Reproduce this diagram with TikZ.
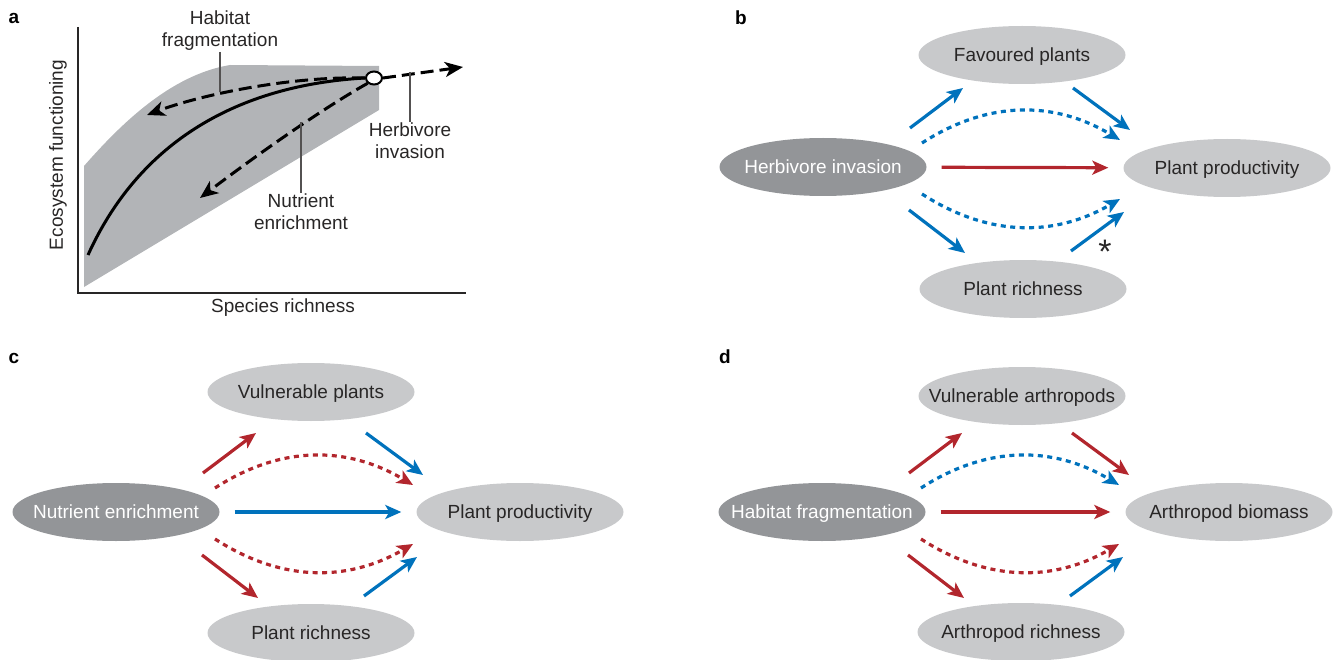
\documentclass[tikz,border=0pt]{standalone}
\usepackage{fontspec}
\setmainfont{Liberation Sans}
\usetikzlibrary{arrows.meta,shapes.geometric}
\definecolor{myblue}{RGB}{0,114,188}
\definecolor{myred}{RGB}{178,38,45}
\definecolor{darkell}{RGB}{147,149,152}
\definecolor{lightell}{RGB}{200,201,203}
\definecolor{shadegray}{RGB}{178,180,183}
\definecolor{txt}{RGB}{40,38,38}
\newcommand\nf{\fontsize{19}{22}\selectfont}
\newcommand\ctext[1]{\makebox[0pt][c]{#1}}
\tikzset{
 srcnode/.style={ellipse, fill=darkell, text=white, minimum width=207pt, minimum height=58pt, inner sep=0pt, text depth=0pt, font=\nf},
 tgtnode/.style={ellipse, fill=lightell, text=txt, minimum width=207pt, minimum height=58pt, inner sep=0pt, text depth=0pt, font=\nf},
 solidarr/.style={line width=3.2pt, -{Stealth[length=16pt,width=14pt,inset=4pt]}},
 dotarr/.style={solidarr, dash pattern=on 5pt off 4.5pt},
 plabel/.style={font=\fontsize{19}{19}\selectfont\bfseries, text=black, inner sep=0pt},
 axislabel/.style={font=\nf, text=txt, inner sep=1pt},
 callout/.style={font=\nf, text=txt, align=center, inner sep=1pt},
 leader/.style={line width=1.2pt, draw=txt!80},
 dasharr/.style={line width=3pt, dash pattern=on 13pt off 6pt, -{Stealth[length=18pt,width=15pt,inset=5pt]}},
}
\newcommand\arrowpts[1]{%
 \coordinate (#1-ula) at (87,-39); \coordinate (#1-ulb) at (140,-79);
 \coordinate (#1-ura) at (250,-79); \coordinate (#1-urb) at (307,-37);
 \coordinate (#1-dua) at (99,-24); \coordinate (#1-duc1) at (164,-66); \coordinate (#1-duc2) at (230,-67); \coordinate (#1-dub) at (297,-27);
 \coordinate (#1-dda) at (99,27); \coordinate (#1-ddc1) at (164,69); \coordinate (#1-ddc2) at (230,71); \coordinate (#1-ddb) at (297,32);
 \coordinate (#1-lla) at (86,43); \coordinate (#1-llb) at (142,86);
 \coordinate (#1-lra) at (248,84); \coordinate (#1-lrb) at (301,45);
}
\begin{document}
\begin{tikzpicture}[x=1pt,y=-1pt]
\useasboundingbox (0,0) rectangle (1337,660);
% ---------- panel a ----------
\node[plabel] (la) at (14,18) {a};
\fill[shadegray] (84,166) .. controls (120,125) and (170,75) .. (230,65) -- (379,66) -- (379,110) -- (84,287) -- cycle;
\draw[line width=2.4pt, txt] (78,27) -- (78,293) -- (466,293);
\node[ellipse, draw=black, fill=white, line width=2pt, minimum width=16pt, minimum height=13pt, inner sep=0pt] (inv) at (374,78) {};
\coordinate (curvestart) at (88,255);
\draw[line width=3pt] (curvestart) .. controls (140,140) and (240,85) .. (inv.west);
\coordinate (ha-tip) at (147,115);
\coordinate (ne-tip) at (200,198);
\coordinate (hi-tip) at (463,67);
\draw[dasharr] (inv.west) .. controls (290,76) and (200,95) .. (ha-tip);
\draw[dasharr] (inv.south west) .. controls (320,110) and (250,160) .. (ne-tip);
\draw[dasharr] (inv.east) -- (hi-tip);
\node[callout, anchor=south] (habtxt) at (220,52) {Habitat\\fragmentation};
\coordinate (hab-end) at (220,92);
\draw[leader] (habtxt.south) -- (hab-end);
\node[callout, anchor=north] (hivtxt) at (410,122) {Herbivore\\invasion};
\coordinate (hiv-top) at (410,72);
\draw[leader] (hiv-top) -- (hivtxt.north);
\node[callout, anchor=north] (netxt) at (301,193) {Nutrient\\enrichment};
\coordinate (ne-top) at (301,122);
\draw[leader] (ne-top) -- (netxt.north);
\node[axislabel, rotate=90] (ylab) at (58,155) {Ecosystem functioning};
\node[axislabel] (xlab) at (283,308) {Species richness};
% ---------- panel b ----------
\node[plabel] (lb) at (741,18) {b};
\begin{scope}[shift={(823,167)}]
 \arrowpts{b}
 \node[srcnode] (b-src) at (0,0) {\ctext{Herbivore invasion}};
 \node[tgtnode] (b-top) at (199,-112) {\ctext{Favoured plants}};
 \node[tgtnode] (b-dst) at (404,1) {\ctext{Plant productivity}};
 \node[tgtnode] (b-bot) at (200,122) {\ctext{Plant richness}};
 \draw[solidarr, myblue] (b-ula) -- (b-ulb);
 \draw[solidarr, myblue] (b-ura) -- (b-urb);
 \draw[dotarr, myblue] (b-dua) .. controls (b-duc1) and (b-duc2) .. (b-dub);
 \draw[solidarr, myred, shorten <=15pt, shorten >=15pt] (b-src) -- (b-dst);
 \draw[dotarr, myblue] (b-dda) .. controls (b-ddc1) and (b-ddc2) .. (b-ddb);
 \draw[solidarr, myblue] (b-lla) -- (b-llb);
 \draw[solidarr, myblue] (b-lra) -- (b-lrb);
 \node[font=\fontsize{34}{34}\selectfont, text=txt, inner sep=0pt, anchor=base] (b-ast) at (282,96) {*};
\end{scope}
% ---------- panel c ----------
\node[plabel] (lc) at (14,358) {c};
\begin{scope}[shift={(116,512)}]
 \arrowpts{c}
 \node[srcnode] (c-src) at (0,0) {\ctext{Nutrient enrichment}};
 \node[tgtnode] (c-top) at (195,-120) {\ctext{Vulnerable plants}};
 \node[tgtnode] (c-dst) at (404,0) {\ctext{Plant productivity}};
 \node[tgtnode] (c-bot) at (195,121) {\ctext{Plant richness}};
 \draw[solidarr, myred] (c-ula) -- (c-ulb);
 \draw[solidarr, myblue] (c-ura) -- (c-urb);
 \draw[dotarr, myred] (c-dua) .. controls (c-duc1) and (c-duc2) .. (c-dub);
 \draw[solidarr, myblue, shorten <=15pt, shorten >=15pt] (c-src) -- (c-dst);
 \draw[dotarr, myred] (c-dda) .. controls (c-ddc1) and (c-ddc2) .. (c-ddb);
 \draw[solidarr, myred] (c-lla) -- (c-llb);
 \draw[solidarr, myblue] (c-lra) -- (c-lrb);
\end{scope}
% ---------- panel d ----------
\node[plabel] (ld) at (725,357) {d};
\begin{scope}[shift={(822,512)}]
 \arrowpts{d}
 \node[srcnode] (d-src) at (0,0) {\ctext{Habitat fragmentation}};
 \node[tgtnode] (d-top) at (200,-116) {\ctext{Vulnerable arthropods}};
 \node[tgtnode] (d-dst) at (407,0) {\ctext{Arthropod biomass}};
 \node[tgtnode] (d-bot) at (199,120) {\ctext{Arthropod richness}};
 \draw[solidarr, myred] (d-ula) -- (d-ulb);
 \draw[solidarr, myred] (d-ura) -- (d-urb);
 \draw[dotarr, myblue] (d-dua) .. controls (d-duc1) and (d-duc2) .. (d-dub);
 \draw[solidarr, myred, shorten <=15pt, shorten >=15pt] (d-src) -- (d-dst);
 \draw[dotarr, myred] (d-dda) .. controls (d-ddc1) and (d-ddc2) .. (d-ddb);
 \draw[solidarr, myred] (d-lla) -- (d-llb);
 \draw[solidarr, myblue] (d-lra) -- (d-lrb);
\end{scope}
\end{tikzpicture}
\end{document}
